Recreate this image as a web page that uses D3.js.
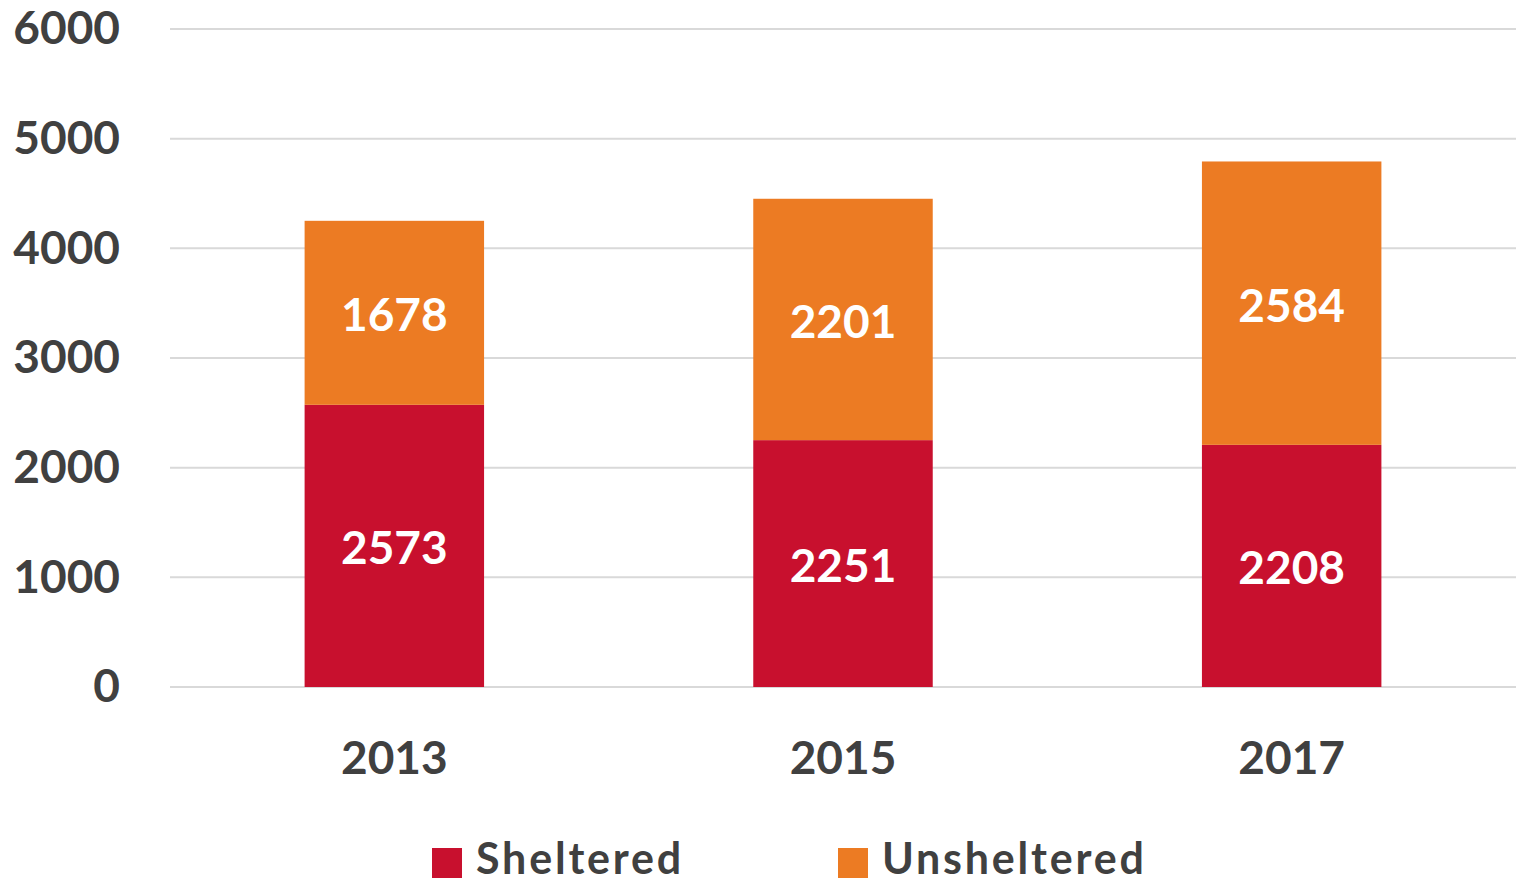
<!DOCTYPE html>
<html>
<head>
<meta charset="utf-8">
<script src="https://cdn.jsdelivr.net/npm/d3@7"></script>
<style>
  body { margin: 0; background: #fff; }
  text { font-family: Lato, "Open Sans", sans-serif; font-weight: bold; }
</style>
</head>
<body>
<div id="chart"></div>
<script>
// data
const years = ["2013", "2015", "2017"];
const sheltered = [2573, 2251, 2208];
const unsheltered = [1678, 2201, 2584];
const seriesNames = ["Sheltered", "Unsheltered"];
const seriesColors = ["#C8102E", "#EC7B23"];
const yTicks = [0, 1000, 2000, 3000, 4000, 5000, 6000];

const width = 1516, height = 884;
const margin = { top: 29, right: 0, bottom: 197, left: 170 };
const innerW = width - margin.left - margin.right;
const innerH = height - margin.top - margin.bottom;

const svg = d3.select("#chart").append("svg")
    .attr("width", width)
    .attr("height", height);

const g = svg.append("g")
    .attr("transform", `translate(${margin.left}, ${margin.top})`);

const rows = years.map((y, i) => ({ year: y, Sheltered: sheltered[i], Unsheltered: unsheltered[i] }));
const stacked = d3.stack().keys(seriesNames)(rows);

// scales
const x = d3.scaleBand()
    .domain(years)
    .range([0, innerW])
    .paddingInner(0.6)
    .paddingOuter(0.3);

const y = d3.scaleLinear()
    .domain([0, 6000])
    .range([innerH, 0]);

// gridlines
g.append("g")
    .selectAll("line")
    .data(yTicks)
    .enter()
    .append("line")
    .attr("x1", 0)
    .attr("x2", innerW)
    .attr("y1", d => y(d))
    .attr("y2", d => y(d))
    .attr("stroke", "#D9D9D9")
    .attr("stroke-width", 2);

// y axis
const yAxis = g.append("g")
    .call(d3.axisLeft(y).tickValues(yTicks).tickSize(0).tickPadding(50).tickFormat(d3.format("d")));
yAxis.select(".domain").remove();
yAxis.selectAll("text")
    .attr("fill", "#404040")
    .style("font-size", "46px")
    .style("font-family", "Lato, sans-serif")
    .style("font-weight", "bold");

// bars
const layers = g.selectAll(".layer")
    .data(stacked)
    .enter()
    .append("g")
    .attr("fill", (d, i) => seriesColors[i]);

layers.selectAll("rect")
    .data(d => d)
    .enter()
    .append("rect")
    .attr("x", d => x(d.data.year))
    .attr("width", x.bandwidth())
    .attr("y", d => y(d[1]))
    .attr("height", d => y(d[0]) - y(d[1]));

// data labels
layers.selectAll("text")
    .data(d => d)
    .enter()
    .append("text")
    .attr("x", d => x(d.data.year) + x.bandwidth() / 2)
    .attr("y", d => (y(d[0]) + y(d[1])) / 2)
    .attr("dy", "0.4em")
    .attr("text-anchor", "middle")
    .attr("fill", "#fff")
    .style("font-size", "46px")
    .text(d => d[1] - d[0]);

// x axis
const xAxis = g.append("g")
    .attr("transform", `translate(0, ${innerH})`)
    .call(d3.axisBottom(x).tickSize(0).tickPadding(50));
xAxis.select(".domain").remove();
xAxis.selectAll("text")
    .attr("fill", "#404040")
    .attr("dy", "0.36em")
    .attr("y", 70)
    .style("font-size", "46px")
    .style("font-family", "Lato, sans-serif")
    .style("font-weight", "bold");

// legend
const legend = svg.append("g")
    .attr("transform", "translate(0, 863)");
const legendX = [432, 838];
seriesNames.forEach((name, i) => {
    const item = legend.append("g").attr("transform", `translate(${legendX[i]}, 0)`);
    item.append("rect")
        .attr("x", 0)
        .attr("y", -15)
        .attr("width", 30)
        .attr("height", 30)
        .attr("fill", seriesColors[i]);
    item.append("text")
        .attr("x", 44)
        .attr("y", 11)
        .attr("fill", "#404040")
        .style("font-size", "43px")
        .style("letter-spacing", "2.8px")
        .text(name);
});
</script>
</body>
</html>
